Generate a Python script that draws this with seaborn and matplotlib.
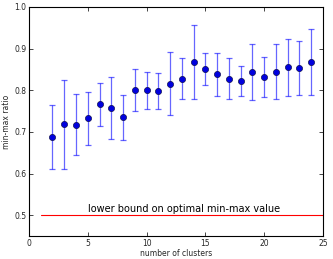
import matplotlib
matplotlib.use("Agg")
import matplotlib.pyplot as plt
import seaborn as sns
import numpy as np
import pandas as pd

clusters = [2, 3, 4, 5, 6, 7, 8, 9, 10, 11, 12, 13, 14, 15, 16, 17, 18, 19, 20, 21, 22, 23, 24]
ratio = [0.688, 0.718, 0.717, 0.733, 0.767, 0.758, 0.736, 0.801, 0.800, 0.798, 0.816, 0.828,
         0.868, 0.851, 0.838, 0.828, 0.822, 0.845, 0.833, 0.845, 0.855, 0.854, 0.868]
upper = [0.765, 0.825, 0.791, 0.795, 0.818, 0.832, 0.789, 0.850, 0.844, 0.841, 0.893, 0.878,
         0.956, 0.890, 0.890, 0.877, 0.858, 0.912, 0.881, 0.910, 0.924, 0.919, 0.946]
lower = [0.610, 0.610, 0.644, 0.669, 0.713, 0.684, 0.681, 0.751, 0.756, 0.754, 0.740, 0.778,
         0.780, 0.812, 0.786, 0.780, 0.785, 0.777, 0.783, 0.778, 0.785, 0.788, 0.789]
bound_x = [1, 25]
bound_y = [0.5, 0.5]
bound_label = "lower bound on optimal min-max value"

sns.set_style("ticks")
plt.rcParams['font.family'] = ['DejaVu Sans']

fig = plt.figure(figsize=(3.33, 2.59), dpi=100)
ax = fig.add_axes([0.087, 0.089, 0.883, 0.884])

df = pd.DataFrame({"clusters": clusters, "ratio": ratio})
yerr = np.array([np.array(ratio) - np.array(lower), np.array(upper) - np.array(ratio)])
ax.errorbar(clusters, ratio, yerr=yerr, fmt="none", ecolor="#0000ff", alpha=0.6,
            elinewidth=0.9, capsize=2.0, capthick=0.9)
sns.scatterplot(data=df, x="clusters", y="ratio", ax=ax, color="#0000dd",
                edgecolor="#000033", linewidth=0.4, s=20, zorder=3)
sns.lineplot(x=bound_x, y=bound_y, ax=ax, color="#ff0000", linewidth=0.8)
ax.text(5, 0.502, bound_label, fontsize=7, va="bottom", ha="left", color="black")

ax.set_xlim(0, 25)
ax.set_ylim(0.45, 1.0)
ax.set_xticks([0, 5, 10, 15, 20, 25])
ax.set_yticks([0.5, 0.6, 0.7, 0.8, 0.9, 1.0])
ax.set_yticklabels(["0.5", "0.6", "0.7", "0.8", "0.9", "1.0"])
ax.tick_params(direction="in", length=3, width=0.6, labelsize=5.5, top=True, right=True, pad=2)
ax.set_xlabel("number of clusters", fontsize=5.5, labelpad=1)
ax.set_ylabel("min-max ratio", fontsize=5.5, labelpad=2)
for s in ax.spines.values():
    s.set_linewidth(0.8)
    s.set_color("black")

fig.savefig("out.png", dpi=100)
